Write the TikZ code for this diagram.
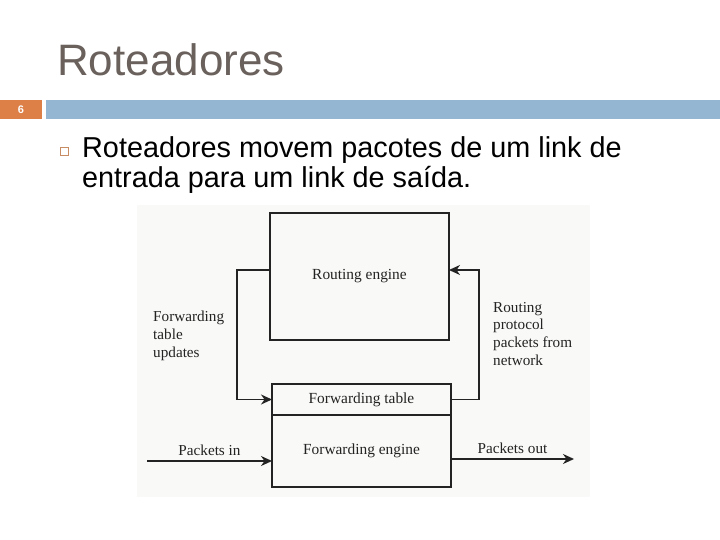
\documentclass[tikz,border=0pt]{standalone}
\usepackage{fontspec}
\setmainfont{Liberation Serif}
\newfontfamily\slidesans{Liberation Sans}
\usepackage{tikz}
\usetikzlibrary{positioning, arrows.meta}
\definecolor{titlegray}{RGB}{106,97,93}
\definecolor{barorange}{RGB}{221,128,71}
\definecolor{barblue}{RGB}{148,182,210}
\definecolor{bulletbrown}{RGB}{200,140,100}
\definecolor{scanbg}{RGB}{249,249,247}
\definecolor{inkgray}{RGB}{35,35,35}

\begin{document}
\begin{tikzpicture}[x=1pt,y=-1pt,
  box_node/.style={draw=inkgray,line width=2.2pt,minimum width=179pt,inner sep=0pt,outer sep=0pt,
    font=\fontsize{15.4}{18}\selectfont,text=inkgray},
  side_text/.style={align=left,inner sep=0pt,anchor=north west,font=\fontsize{15.2}{17.7}\selectfont,text=inkgray},
  conn_line/.style={draw=inkgray,line width=1.6pt,-{Stealth[length=11pt,width=10pt,inset=3.5pt]}},
  slide_text/.style={font=\slidesans\fontsize{28.8}{30}\selectfont,anchor=base west,inner sep=0pt}]

\useasboundingbox (0,0) rectangle (720,540);

% slide header
\node[font=\slidesans\fontsize{44}{48}\selectfont,text=titlegray,anchor=base west,inner sep=0pt] (title) at (57,76) {Roteadores};
\fill[barorange] (0,100) rectangle (42,119);
\fill[barblue] (46,100) rectangle (720,119);
\node[font=\slidesans\bfseries\fontsize{11}{12}\selectfont,text=white] (slidenum) at (21,109.5) {6};

% bullet
\draw[bulletbrown,line width=1pt] (60,147.5) rectangle (68.5,156);
\node[slide_text] (line1) at (82,158) {Roteadores movem pacotes de um link de};
\node[slide_text] (line2) at (82,188) {entrada para um link de saída.};

% scanned figure
\fill[scanbg] (137,205) rectangle (590,497);

\node[box_node, minimum height=127pt] (routing) at (359.5,276.5) {Routing engine};
\node[box_node, minimum height=31pt] (fwdtable) at (361.5,399.5) {Forwarding table};
\node[box_node, minimum height=72pt, below=0pt of fwdtable] (fwdengine) {Forwarding engine};

\coordinate (upd_corner) at (237,270);
\coordinate (proto_corner) at (479,270);
\coordinate (pkt_in) at (147,461);
\coordinate (pkt_out) at (574,459);

\draw[conn_line] (routing.west |- upd_corner) -- (upd_corner) |- (fwdtable.west);
\draw[conn_line] (fwdtable.east) -| (proto_corner) -- (routing.east |- proto_corner);
\draw[conn_line] (pkt_in) -- (fwdengine.west |- pkt_in)
  node[midway,above=1pt,font=\fontsize{15.2}{18}\selectfont,text=inkgray] (in_label) {Packets in};
\draw[conn_line] (fwdengine.east |- pkt_out) -- (pkt_out)
  node[midway,above=1pt,font=\fontsize{15.2}{18}\selectfont,text=inkgray] (out_label) {Packets out};

\node[side_text] (upd_label) at (153,311) {Forwarding\\table\\updates};
\node[side_text] (proto_label) at (493,302) {Routing\\protocol\\packets from\\network};

\end{tikzpicture}
\end{document}
